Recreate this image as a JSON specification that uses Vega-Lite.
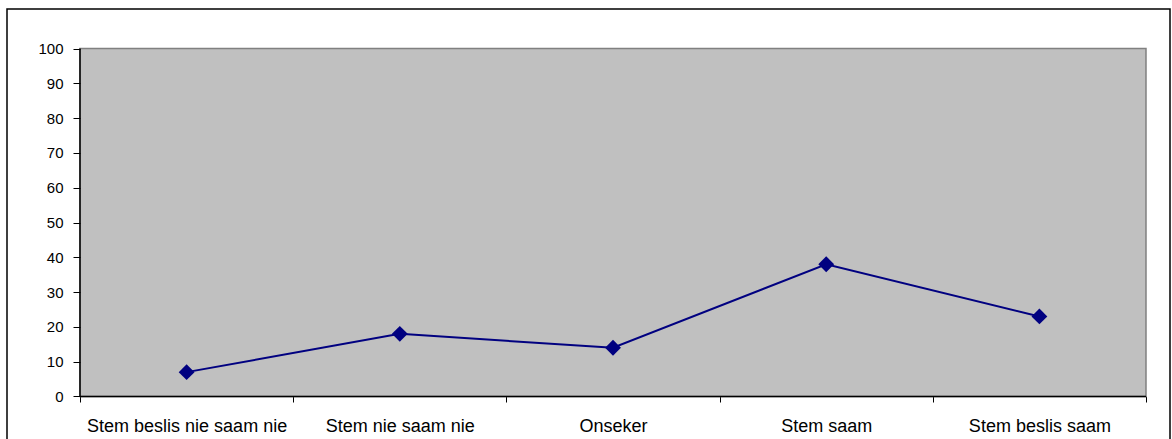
{
  "$schema": "https://vega.github.io/schema/vega-lite/v6.json",
  "width": 1163,
  "height": 433,
  "autosize": {"type": "none"},
  "padding": {"left": 7, "top": 9, "right": 2, "bottom": -3},
  "background": "white",
  "config": {
    "view": {"stroke": "#000000", "strokeWidth": 1.5, "fill": "white"},
    "font": "Liberation Sans"
  },
  "resolve": {"scale": {"x": "independent"}, "axis": {"y": "independent", "x": "independent"}},
  "layer": [
    {
      "data": {"values": [{"frame": "plot"}]},
      "layer": [
        {
          "mark": {"type": "rect", "fill": "#C0C0C0", "stroke": "#808080", "strokeWidth": 1.5},
          "encoding": {
            "x": {"datum": 0, "type": "quantitative", "scale": {"domain": [-0.3424, 5.1126], "nice": false, "zero": false}, "axis": null},
            "x2": {"datum": 5},
            "y": {"datum": 0, "type": "quantitative", "scale": {"domain": [-13.075, 111.351], "nice": false, "zero": false}, "axis": null},
            "y2": {"datum": 100}
          }
        },
        {
          "mark": {"type": "rule", "color": "#000000", "strokeWidth": 1.5},
          "encoding": {
            "x": {"datum": 0, "type": "quantitative", "axis": null},
            "y": {"datum": 0, "type": "quantitative", "axis": null},
            "y2": {"datum": 100}
          }
        },
        {
          "mark": {"type": "rule", "color": "#000000", "strokeWidth": 1.5},
          "encoding": {
            "x": {"datum": 0, "type": "quantitative", "axis": null},
            "x2": {"datum": 5},
            "y": {"datum": 0, "type": "quantitative", "axis": null}
          }
        }
      ]
    },
    {
      "data": {
        "values": [
          {"antwoord": "Stem beslis nie saam nie", "persentasie": 7},
          {"antwoord": "Stem nie saam nie", "persentasie": 18},
          {"antwoord": "Onseker", "persentasie": 14},
          {"antwoord": "Stem saam", "persentasie": 38},
          {"antwoord": "Stem beslis saam", "persentasie": 23}
        ]
      },
      "encoding": {
        "x": {
          "field": "antwoord",
          "type": "nominal",
          "sort": null,
          "scale": {"type": "band", "paddingInner": 0, "paddingOuter": 0.2275, "align": 0.7526},
          "axis": {
            "title": null,
            "tickBand": "extent",
            "offset": -46,
            "domain": false,
            "grid": false,
            "tickSize": 6,
            "tickColor": "#000000",
            "tickWidth": 1,
            "labelFontSize": 18,
            "labelColor": "#000000",
            "labelFont": "Liberation Sans",
            "labelAngle": 0,
            "labelBaseline": "alphabetic",
            "labelPadding": 29,
            "labelOverlap": false,
            "labelLimit": 0
          }
        },
        "y": {
          "field": "persentasie",
          "type": "quantitative",
          "scale": {"domain": [-13.075, 111.351], "nice": false, "zero": false},
          "axis": {
            "title": null,
            "offset": -73,
            "domain": false,
            "grid": false,
            "values": [0, 10, 20, 30, 40, 50, 60, 70, 80, 90, 100],
            "tickSize": 7,
            "tickColor": "#000000",
            "tickWidth": 1,
            "labelFontSize": 15,
            "labelColor": "#000000",
            "labelFont": "Liberation Sans",
            "labelPadding": 10,
            "zindex": 1
          }
        }
      },
      "layer": [
        {"mark": {"type": "line", "color": "#000080", "strokeWidth": 2}},
        {"mark": {"type": "point", "shape": "diamond", "filled": true, "size": 250, "color": "#000080", "opacity": 1}}
      ]
    }
  ]
}
